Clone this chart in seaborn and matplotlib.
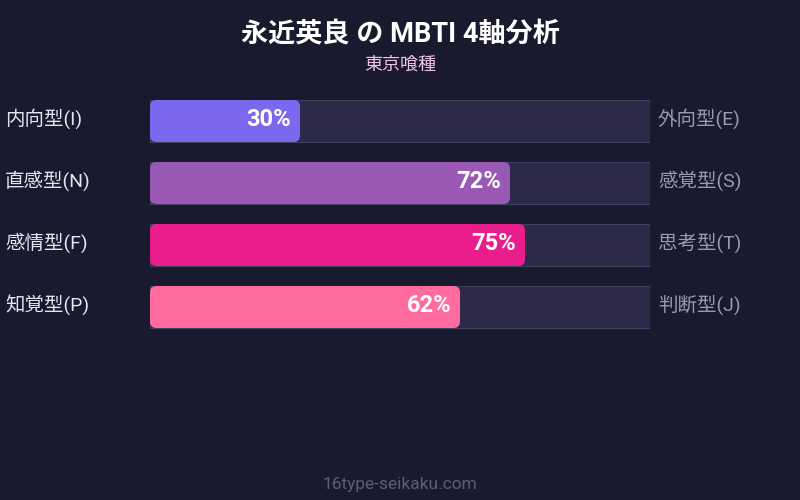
import matplotlib
matplotlib.use("Agg")
import matplotlib.pyplot as plt
import seaborn as sns
import pandas as pd
from matplotlib.patches import FancyBboxPatch

left_labels = ["内向型(I)", "直感型(N)", "感情型(F)", "知覚型(P)"]
right_labels = ["外向型(E)", "感覚型(S)", "思考型(T)", "判断型(J)"]
values = [30, 72, 75, 62]
colors = ["#7b68ee", "#9b59b6", "#e91e8c", "#ff6b9d"]
title = "永近英良 の MBTI 4軸分析"
subtitle = "東京喰種"
footer = "16type-seikaku.com"

BG = "#1a1a2e"
TRACK = "#2c2a48"
TRACK_EDGE = "#41405f"

sns.set_theme(style="dark")
plt.rcParams["font.family"] = ["Roboto", "Noto Sans CJK JP", "DejaVu Sans"]

df = pd.DataFrame({"axis": left_labels, "value": values, "full": [100] * len(values)})

fig = plt.figure(figsize=(8, 5), dpi=100, facecolor=BG)
ax = fig.add_axes([150 / 800, 1 - 338 / 500, 500 / 800, 248 / 500])
ax.set_facecolor(BG)

bw = 42 / 62
sns.barplot(data=df, y="axis", x="full", orient="h", color=TRACK, width=bw,
            saturation=1, edgecolor=TRACK_EDGE, linewidth=0.8, ax=ax)
n_track = len(ax.patches)
sns.barplot(data=df, y="axis", x="value", orient="h", hue="axis",
            palette=colors, width=bw, saturation=1, linewidth=0,
            legend=False, ax=ax)

value_bars = ax.patches[n_track:]
for bar in list(value_bars):
    x0, y0 = bar.get_x(), bar.get_y()
    w, h = bar.get_width(), bar.get_height()
    fc = bar.get_facecolor()
    bar.remove()
    rp = FancyBboxPatch((x0, y0), w, h,
                        boxstyle="round,pad=0,rounding_size=1.3",
                        mutation_aspect=5 / 62, facecolor=fc, edgecolor="none",
                        zorder=3)
    ax.add_patch(rp)
    yc = y0 + h / 2
    ax.text(x0 + w - 1.8, yc - 0.02, f"{int(round(w))}%", ha="right", va="center",
            color="white", fontsize=17, fontweight="semibold", zorder=4)

ax.set_xlim(0, 100)
ax.set_ylim(3.5, -0.5)
ax.set_xlabel("")
ax.set_ylabel("")
ax.set_xticks([])
ax.set_yticks([])
for s in ax.spines.values():
    s.set_visible(False)
ax.grid(False)

for i, (l, r) in enumerate(zip(left_labels, right_labels)):
    ax.text(-29, i - 0.04, l, ha="left", va="center", color="#e4e4f2", fontsize=14,
            clip_on=False)
    ax.text(101.6, i - 0.04, r, ha="left", va="center", color="#9a9aae", fontsize=14,
            clip_on=False)

fig.text(0.5, 1 - 34 / 500, title, ha="center", va="center", color="white",
         fontsize=19.5, fontweight="bold")
fig.text(0.5, 1 - 65 / 500, subtitle, ha="center", va="center", color="#f0c4e4",
         fontsize=13)
fig.text(0.5, 1 - 484 / 500, footer, ha="center", va="center", color="#5c5c7c",
         fontsize=12.5)

fig.savefig("out.png", dpi=100, facecolor=BG)
